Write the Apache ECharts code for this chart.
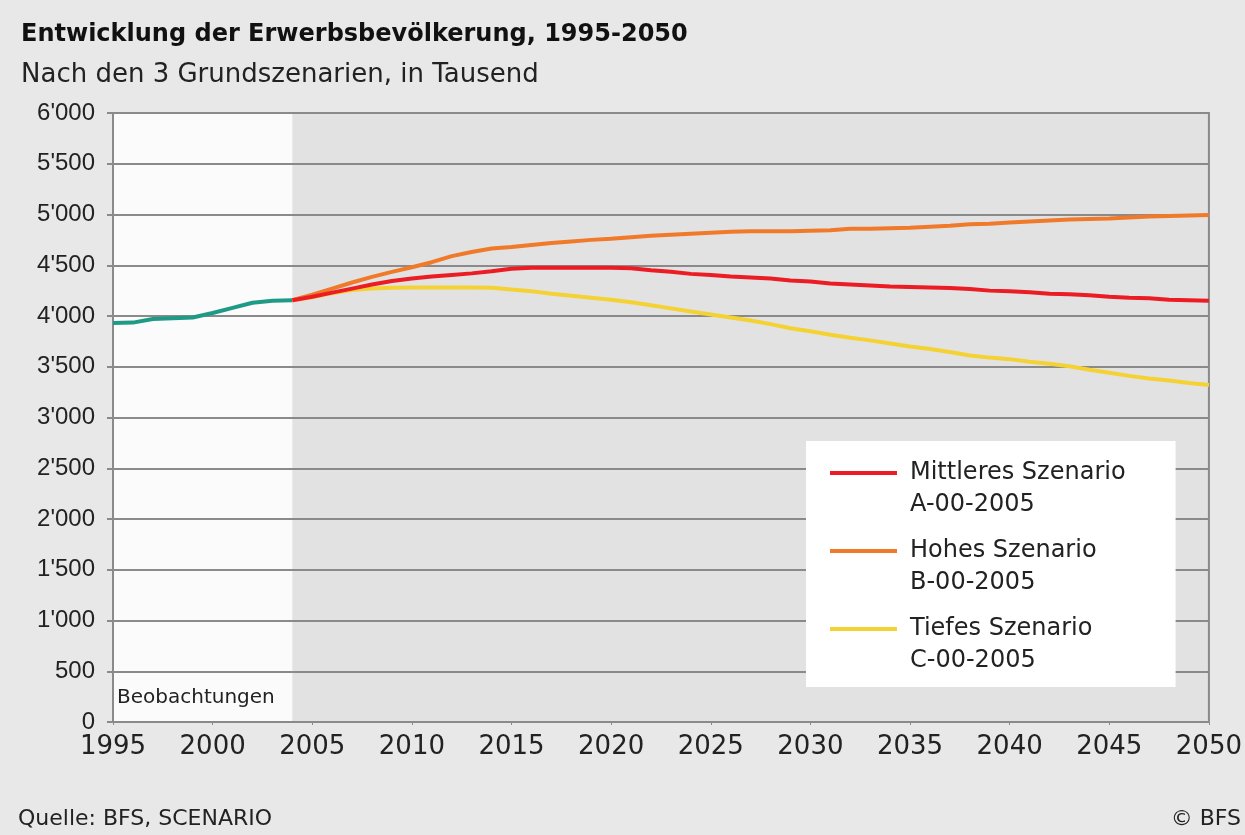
<!DOCTYPE html>
<html>
<head>
<meta charset="utf-8">
<script src="https://cdn.jsdelivr.net/npm/echarts@6/dist/echarts.min.js"></script>
<style>
html,body{margin:0;padding:0;background:#e8e8e8;}
#chart{width:1245px;height:835px;}
</style>
</head>
<body>
<div id="chart"></div>
<script>
// ---- data (in thousands) ----
const obsYears = [1995,1996,1997,1998,1999,2000,2001,2002,2003,2004];
const observed = [3930,3935,3970,3978,3985,4030,4080,4130,4150,4155];

const scenYears = [];
for (let y = 2004; y <= 2050; y++) scenYears.push(y);

const mittleres = [4155,4190,4230,4270,4310,4345,4370,4390,4405,4420,4440,4465,4475,4475,4475,4475,4475,4470,4450,4435,4415,4405,4390,4380,4370,4350,4340,4320,4310,4300,4290,4285,4280,4275,4265,4250,4245,4235,4220,4215,4205,4190,4180,4175,4160,4155,4150];
const hohes = [4155,4210,4270,4330,4385,4435,4480,4530,4590,4630,4665,4680,4700,4720,4735,4750,4760,4775,4790,4800,4810,4820,4830,4835,4835,4835,4840,4845,4860,4860,4865,4870,4880,4890,4905,4910,4920,4930,4940,4950,4955,4960,4970,4980,4985,4990,4995];
const tiefes = [4155,4185,4225,4255,4270,4278,4280,4280,4280,4280,4278,4260,4245,4220,4200,4180,4160,4135,4105,4075,4045,4015,3985,3955,3920,3880,3850,3815,3785,3760,3730,3700,3675,3645,3610,3590,3575,3550,3530,3505,3470,3440,3410,3385,3365,3340,3320];

const seriesNames = ['Mittleres Szenario\nA-00-2005', 'Hohes Szenario\nB-00-2005', 'Tiefes Szenario\nC-00-2005'];
const obsLabel = 'Beobachtungen';
const titleText = 'Entwicklung der Erwerbsbevölkerung, 1995-2050';
const subtitleText = 'Nach den 3 Grundszenarien, in Tausend';
const sourceText = 'Quelle: BFS, SCENARIO';
const copyrightText = '© BFS';

const pair = (xs, ys) => xs.map((x, i) => [x, ys[i]]);
const fmtY = v => v >= 1000 ? Math.floor(v / 1000) + "'" + String(v % 1000).padStart(3, '0') : String(v);

const FONT = 'Liberation Sans, Arial, sans-serif';
const WIDE = 'DejaVu Sans, Verdana, sans-serif';
const colors = ['#ec1c24', '#f07a2a', '#f5d234'];
const legendIcon = 'path://M0,0L0.01,0L0.01,0.01Z M0,14L67,14L67,18L0,18Z M75,64L75.01,64L75.01,64.01Z';

const chart = echarts.init(document.getElementById('chart'));
chart.setOption({
  backgroundColor: '#e8e8e8',
  animation: false,
  title: [
    {text: titleText, left: 16, top: 18, textStyle: {fontFamily: WIDE, fontSize: 24, fontWeight: 'bold', color: '#111'}},
    {text: subtitleText, left: 16, top: 57, textStyle: {fontFamily: WIDE, fontSize: 26, fontWeight: 'normal', color: '#222'}}
  ],
  graphic: [
    {type: 'text', left: 18, top: 808, style: {text: sourceText, font: '22px ' + WIDE, fill: '#222'}},
    {type: 'text', right: 4, top: 808, style: {text: copyrightText, font: '22px ' + WIDE, fill: '#222'}}
  ],
  grid: {left: 113, right: 31, top: 113, bottom: 113, show: true, backgroundColor: '#e2e2e2', borderColor: '#8a8a8a', borderWidth: 2},
  legend: {
    data: seriesNames,
    orient: 'vertical',
    left: 806, top: 441,
    backgroundColor: '#ffffff',
    padding: [16, 50, 10, 24],
    itemWidth: 75, itemHeight: 64, itemGap: 14,
    icon: legendIcon,
    textStyle: {fontFamily: WIDE, fontSize: 24, color: '#222', lineHeight: 32}
  },
  xAxis: {
    type: 'value', min: 1995, max: 2050, interval: 5,
    axisLine: {show: true, lineStyle: {color: '#8a8a8a', width: 2}},
    axisTick: {show: true, length: 3, lineStyle: {color: '#8a8a8a'}},
    splitLine: {show: false},
    axisLabel: {fontFamily: WIDE, fontSize: 26, color: '#222', margin: 12, formatter: v => String(v)}
  },
  yAxis: {
    type: 'value', min: 0, max: 6000, interval: 500, z: 2,
    axisLine: {show: true, lineStyle: {color: '#8a8a8a', width: 2}},
    axisTick: {show: true, length: 6, lineStyle: {color: '#8a8a8a', width: 2}},
    splitLine: {show: true, lineStyle: {color: '#8a8a8a', width: 2}},
    axisLabel: {fontFamily: FONT, fontSize: 24, color: '#222', margin: 18, formatter: fmtY}
  },
  series: [
    {
      name: obsLabel, type: 'line', z: 3, symbol: 'none',
      data: pair(obsYears, observed),
      lineStyle: {color: '#1f9a86', width: 4}, itemStyle: {color: '#1f9a86'},
      markArea: {
        silent: true,
        itemStyle: {color: '#fbfbfb'},
        label: {show: true, position: 'insideBottomLeft', distance: 14, offset: [-10, 0], formatter: obsLabel, fontFamily: WIDE, fontSize: 20, color: '#222'},
        data: [[{xAxis: obsYears[0], yAxis: 0, name: obsLabel}, {xAxis: obsYears[obsYears.length - 1], yAxis: 6000}]]
      }
    },
    {name: seriesNames[1], type: 'line', z: 3, symbol: 'none', data: pair(scenYears, hohes), lineStyle: {color: colors[1], width: 4}, itemStyle: {color: colors[1]}},
    {name: seriesNames[2], type: 'line', z: 3, symbol: 'none', data: pair(scenYears, tiefes), lineStyle: {color: colors[2], width: 4}, itemStyle: {color: colors[2]}},
    {name: seriesNames[0], type: 'line', z: 4, symbol: 'none', data: pair(scenYears, mittleres), lineStyle: {color: colors[0], width: 4}, itemStyle: {color: colors[0]}}
  ]
});
</script>
</body>
</html>
